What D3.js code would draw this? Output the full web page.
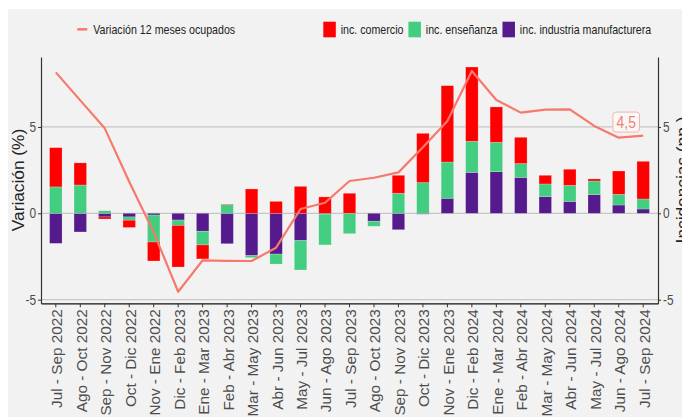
<!DOCTYPE html>
<html><head><meta charset="utf-8">
<script src="https://cdn.jsdelivr.net/npm/d3@7"></script>
<style>body{margin:0;background:#fff;} svg{display:block;}</style>
</head><body>
<script>
const categories = ["Jul - Sep 2022","Ago - Oct 2022","Sep - Nov 2022","Oct - Dic 2022","Nov - Ene 2022",
  "Dic - Feb 2023","Ene - Mar 2023","Feb - Abr 2023","Mar - May 2023","Abr - Jun 2023","May - Jul 2023",
  "Jun - Ago 2023","Jul - Sep 2023","Ago - Oct 2023","Sep - Nov 2023","Oct - Dic 2023","Nov - Ene 2023",
  "Dic - Feb 2024","Ene - Mar 2024","Feb - Abr 2024","Mar - May 2024","Abr - Jun 2024","May - Jul 2024",
  "Jun - Ago 2024","Jul - Sep 2024"];
const comercio  = [2.27,1.28,-0.12,-0.42,-1.10,-2.41,-0.81,0.03,1.41,0.69,1.56,0.95,1.16,0.00,1.04,2.85,4.42,4.30,2.05,1.52,0.50,0.93,0.12,1.35,2.18];
const ensenanza = [1.53,1.64,0.15,-0.19,-1.56,-0.31,-0.79,0.50,-0.12,-0.58,-1.70,-1.78,-1.16,-0.29,1.16,1.78,2.10,1.80,1.70,0.80,0.73,0.93,0.79,0.62,0.58];
const industria = [-1.74,-1.08,-0.21,-0.21,-0.10,-0.39,-1.04,-1.76,-2.45,-2.36,-1.58,-0.05,-0.02,-0.46,-0.95,-0.05,0.87,2.37,2.41,2.08,0.97,0.69,1.08,0.48,0.25];
const variacion = [8.16,6.54,4.92,1.83,-1.10,-4.54,-2.72,-2.75,-2.76,-1.99,0.25,0.61,1.87,2.06,2.37,3.82,5.34,8.24,6.56,5.83,6.00,6.02,5.06,4.38,4.50];
const yTicks = [-5,0,5];
const lastLabel = "4,5";

const seriesKeys = ["industria","ensenanza","comercio"];
const seriesNames = {comercio:"inc. comercio", ensenanza:"inc. enseñanza", industria:"inc. industria manufacturera"};
const colors = {comercio:"#ff0000", ensenanza:"#43cd80", industria:"#551a8b"};
const lineColor = "#f8796c";

// narrow font: use real narrow font if present, else horizontally compressed Liberation Sans
function hasFont(name){
  const c=document.createElement("canvas").getContext("2d");
  const s="Variación 12 meses ocupados";
  c.font="20px monospace"; const a=c.measureText(s).width;
  c.font="20px '"+name+"', monospace"; const b=c.measureText(s).width;
  return a!==b;
}
const narrowOK = hasFont("Liberation Sans Narrow");
const NARROW = narrowOK ? "'Liberation Sans Narrow', sans-serif" : "'Liberation Sans', Arial, sans-serif";
const SX = narrowOK ? 1 : 0.82;
const REG = "'Liberation Sans', Arial, sans-serif";

const W=682,H=417;
const svg=d3.select("body").append("svg").attr("width",W).attr("height",H);
svg.append("rect").attr("width",W).attr("height",H).attr("fill","#ffffff");
svg.append("rect").attr("x",8).attr("y",9).attr("width",W-8).attr("height",H-9).attr("fill","#f2f2f2");

const x=d3.scaleBand().domain(categories).range([41,658]).paddingInner(0.49).paddingOuter(0.35);
const y=d3.scaleLinear().domain([-5.21,9.05]).range([303.3,57]);
const bw=x.bandwidth();
const cx=c=>x(c)+bw/2;

// gridlines
svg.append("g").selectAll("line").data(yTicks).join("line")
  .attr("x1",41).attr("x2",658).attr("y1",d=>y(d)).attr("y2",d=>y(d))
  .attr("stroke","#c6c6c6").attr("stroke-width",1.2);

// stacked bars
const rows=categories.map((c,i)=>({cat:c,comercio:comercio[i],ensenanza:ensenanza[i],industria:industria[i]}));
const stacked=d3.stack().keys(seriesKeys).offset(d3.stackOffsetDiverging)(rows);
svg.append("g").selectAll("g").data(stacked).join("g")
  .attr("fill",s=>colors[s.key])
  .selectAll("rect").data(s=>s).join("rect")
  .attr("x",d=>x(d.data.cat)).attr("width",bw)
  .attr("y",d=>y(Math.max(d[0],d[1])))
  .attr("height",d=>Math.abs(y(d[0])-y(d[1])))
  .attr("stroke","rgba(255,255,255,0.3)").attr("stroke-width",0.7);

// line
const line=d3.line().x((d,i)=>cx(categories[i])).y(d=>y(d));
svg.append("path").datum(variacion).attr("d",line).attr("fill","none")
  .attr("stroke",lineColor).attr("stroke-width",2.2).attr("stroke-linejoin","round");

// axes
const axColor="#4d4d4d";
function styleAxis(g){
  g.select(".domain").attr("stroke","#333").attr("stroke-width",1.2);
  g.selectAll(".tick line").attr("stroke","#333");
  g.selectAll(".tick text").attr("fill",axColor);
}
function narrowTicks(g){
  g.selectAll(".tick text").attr("font-family",NARROW).attr("font-size","14.5px")
    .each(function(){ const t=d3.select(this); const ox=+t.attr("x"); t.attr("x",ox/SX).attr("transform",`scale(${SX},1)`); });
}
const yl=svg.append("g").attr("transform","translate(41,0)")
  .call(d3.axisLeft(y).tickValues(yTicks).tickFormat(d=>String(d)).tickSize(3).tickSizeOuter(0).tickPadding(2));
yl.call(styleAxis); yl.call(narrowTicks);

const yr=svg.append("g").attr("transform","translate(658,0)")
  .call(d3.axisRight(y).tickValues(yTicks).tickFormat(d=>String(d)).tickSize(3).tickSizeOuter(0).tickPadding(2));
yr.call(styleAxis); yr.call(narrowTicks);

const xa=svg.append("g").attr("transform","translate(0,303.3)")
  .call(d3.axisBottom(x).tickSize(4).tickSizeOuter(0));
xa.call(styleAxis);
xa.select(".domain").attr("stroke","#111");
xa.selectAll(".tick text").attr("font-family",REG).attr("font-size","15.3px")
  .attr("transform","rotate(-90)").attr("x",-6).attr("y",0).attr("dy","0.42em").attr("text-anchor","end");

// axis titles
svg.append("text").attr("transform","translate(24,180) rotate(-90)").attr("text-anchor","middle")
  .attr("font-family",REG).attr("font-size","17.3px").attr("fill","#222").text("Variación (%)");
svg.append("text").attr("transform","translate(687.5,180) rotate(-90)").attr("text-anchor","middle")
  .attr("font-family",REG).attr("font-size","17.3px").attr("fill","#222").text("Incidencias (pp.)");

// last value label
const lx=cx(categories[categories.length-1])-17, ly=y(variacion[variacion.length-1])-13.5;
const lg=svg.append("g").attr("transform",`translate(${lx},${ly})`);
lg.append("rect").attr("x",-13.3).attr("y",-10).attr("width",26.6).attr("height",20).attr("rx",3)
  .attr("fill","#f8f8f8").attr("stroke","#f6b3ab").attr("stroke-width",1);
lg.append("text").attr("text-anchor","middle").attr("dy","0.36em").attr("font-family",NARROW)
  .attr("font-size","17px").attr("transform",`scale(${SX},1)`).attr("fill","#f08072").text(lastLabel);

// legend
const leg=svg.append("g").attr("font-family",NARROW).attr("font-size","13px").attr("fill","#222");
function legText(px,label){
  const t=leg.append("text").attr("transform",`translate(${px},29.5) scale(${SX},1)`).attr("dy","0.36em").text(label);
  return t.node().getComputedTextLength()*SX;
}
leg.append("line").attr("x1",77.3).attr("x2",87.3).attr("y1",29.3).attr("y2",29.3)
  .attr("stroke",lineColor).attr("stroke-width",2.5);
legText(93.3,"Variación 12 meses ocupados");
let lxPos=323.3;
["comercio","ensenanza","industria"].forEach(k=>{
  leg.append("rect").attr("x",lxPos).attr("y",21.7).attr("width",12.5).attr("height",15.6).attr("fill",colors[k]);
  const w=legText(lxPos+17.4,seriesNames[k]);
  lxPos=lxPos+17.4+w+5;
});
</script>
</body></html>
